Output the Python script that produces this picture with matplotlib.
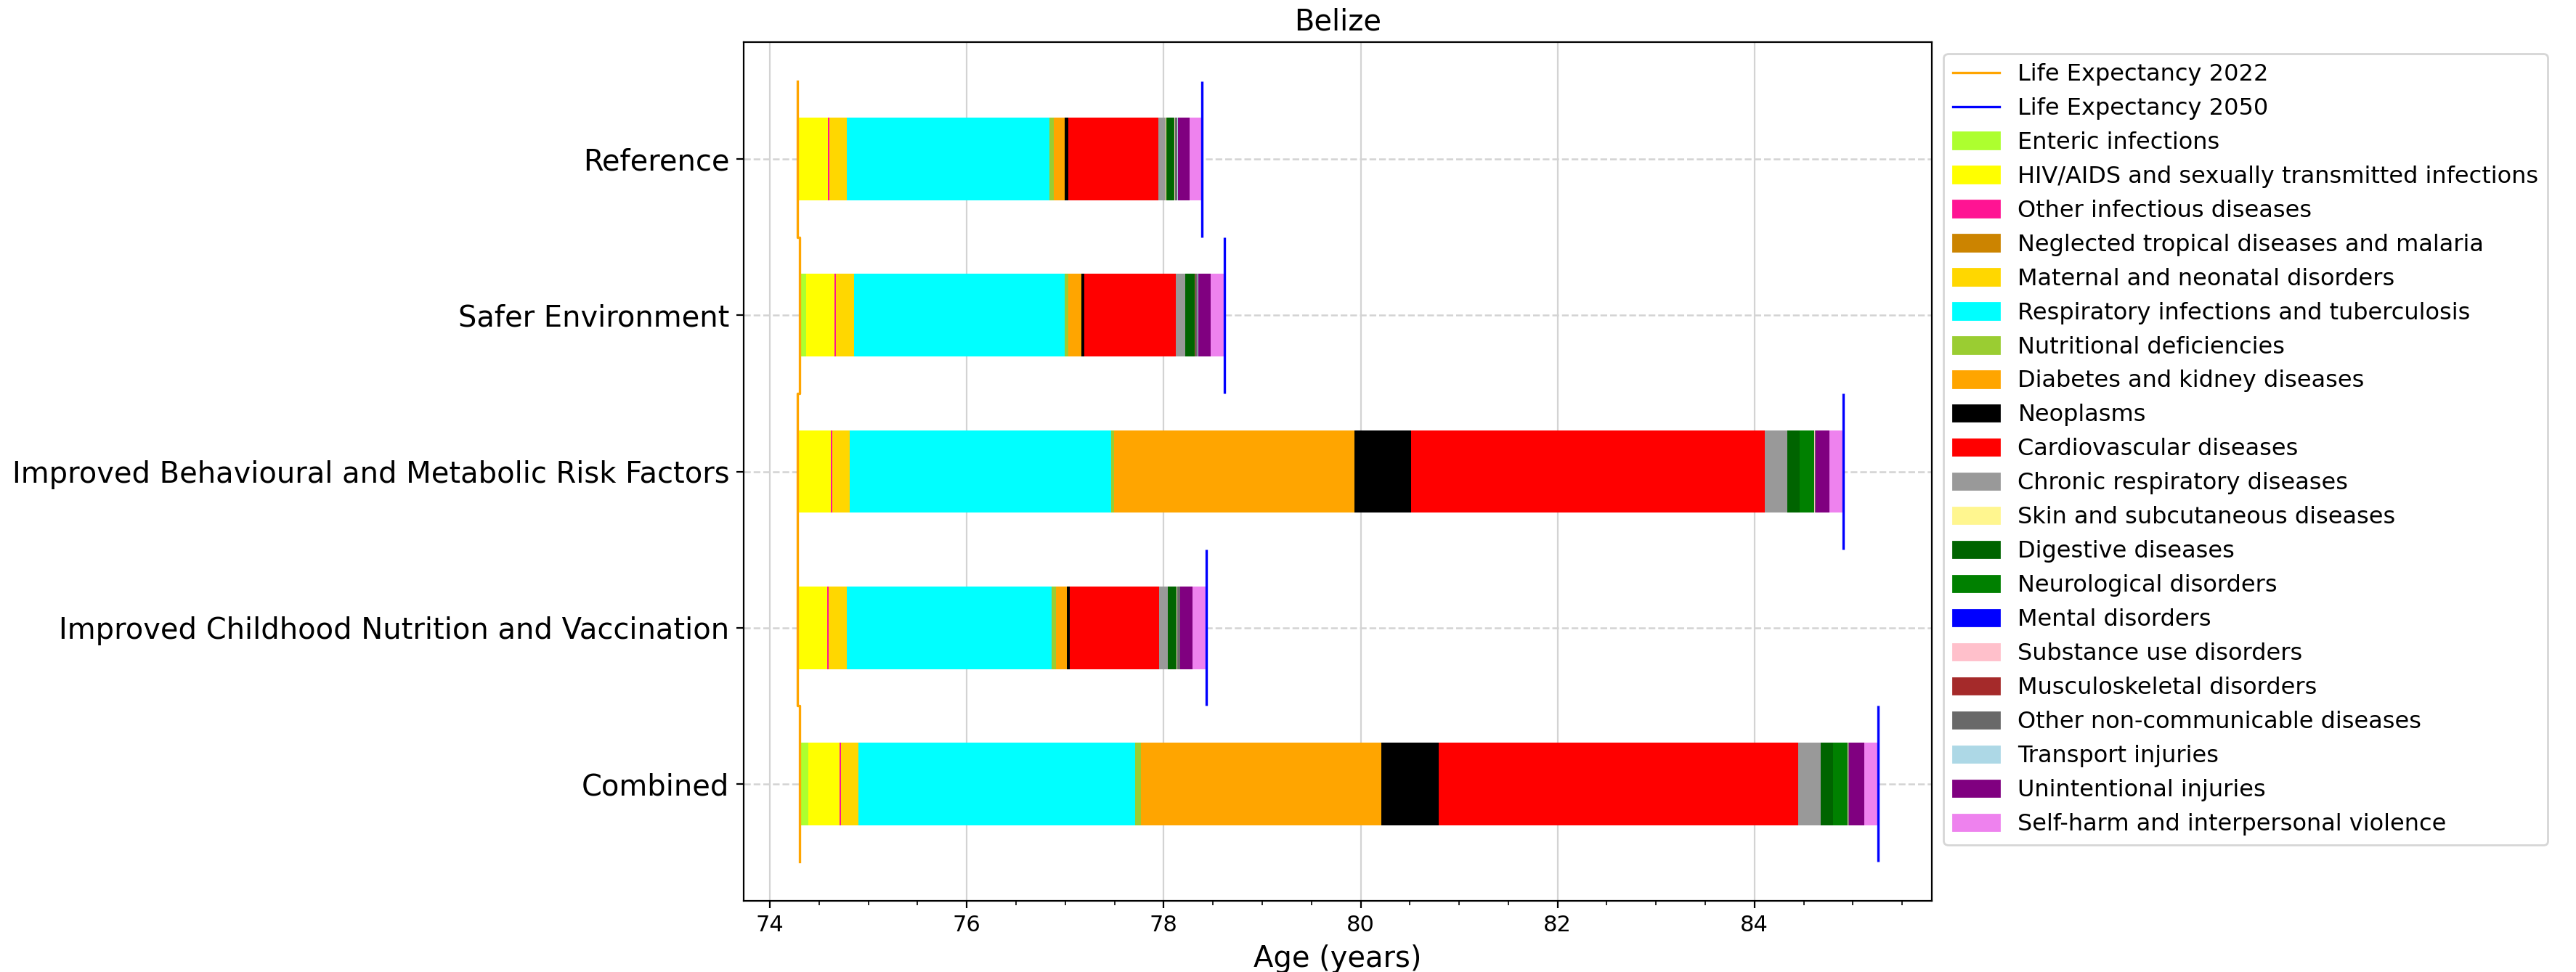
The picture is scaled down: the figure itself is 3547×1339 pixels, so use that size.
import matplotlib.pyplot as plt
import numpy as np
from matplotlib.lines import Line2D
from matplotlib.patches import Patch
from matplotlib.ticker import AutoMinorLocator

scenarios = ["Reference", "Safer Environment",
             "Improved Behavioural and Metabolic Risk Factors",
             "Improved Childhood Nutrition and Vaccination", "Combined"]

causes = ["Enteric infections", "HIV/AIDS and sexually transmitted infections",
          "Other infectious diseases", "Neglected tropical diseases and malaria",
          "Maternal and neonatal disorders", "Respiratory infections and tuberculosis",
          "Nutritional deficiencies", "Diabetes and kidney diseases", "Neoplasms",
          "Cardiovascular diseases", "Chronic respiratory diseases",
          "Skin and subcutaneous diseases", "Digestive diseases",
          "Neurological disorders", "Mental disorders", "Substance use disorders",
          "Musculoskeletal disorders", "Other non-communicable diseases",
          "Transport injuries", "Unintentional injuries",
          "Self-harm and interpersonal violence"]

colors = ["greenyellow", "yellow", "deeppink", "#cc8400", "gold", "cyan",
          "yellowgreen", "orange", "black", "red", "#999999", "#fff68f",
          "darkgreen", "green", "blue", "pink", "brown", "dimgray",
          "lightblue", "purple", "violet"]

le_2022 = [74.28, 74.30, 74.28, 74.28, 74.30]
le_2050 = [78.39, 78.62, 84.90, 78.435, 85.255]

# gain in years by cause, one list per scenario (same order as causes)
reference = [0.015, 0.295, 0.015, 0.002, 0.175, 2.06, 0.04, 0.11, 0.04, 0.91, 0.08,
             0.002, 0.08, 0.005, 0.002, 0.002, 0.002, 0.025, 0.003, 0.12, 0.13]
safer_env = [0.065, 0.29, 0.015, 0.002, 0.18, 2.14, 0.04, 0.13, 0.03, 0.93, 0.095,
             0.002, 0.09, 0.005, 0.002, 0.002, 0.002, 0.025, 0.003, 0.13, 0.145]
behav_metab = [0.01, 0.33, 0.012, 0.002, 0.18, 2.65, 0.035, 2.44, 0.575, 3.59, 0.23,
               0.003, 0.12, 0.15, 0.003, 0.003, 0.003, 0.005, 0.003, 0.135, 0.15]
child_nutr = [0.015, 0.29, 0.013, 0.002, 0.18, 2.08, 0.043, 0.11, 0.03, 0.91, 0.09,
              0.002, 0.08, 0.005, 0.002, 0.002, 0.002, 0.03, 0.003, 0.12, 0.145]
combined = [0.09, 0.32, 0.01, 0.002, 0.18, 2.81, 0.06, 2.44, 0.58, 3.65, 0.23,
            0.003, 0.12, 0.15, 0.003, 0.003, 0.003, 0.005, 0.003, 0.15, 0.145]

gains = np.array([reference, safer_env, behav_metab, child_nutr, combined])
y = np.arange(len(scenarios))

fig = plt.figure(figsize=(3547 / 200, 1339 / 200), dpi=200)
ax = fig.add_axes([1023.7 / 3547, 1 - 1241 / 1339, 1636.6 / 3547, 1183 / 1339])

left = np.array(le_2022, dtype=float)
for j, cause in enumerate(causes):
    ax.barh(y, gains[:, j], left=left, height=0.53, color=colors[j], label=cause)
    left = left + gains[:, j]

# 2022 line drawn as one connected stepped line, 2050 as separate segments
xs = np.repeat(le_2022, 2)
ys = np.ravel([[i - 0.5, i + 0.5] for i in y])
ax.plot(xs, ys, color="orange", lw=1.2)
ax.vlines(le_2050, y - 0.5, y + 0.5, color="blue", lw=1.2)

# bars pin the left edge, so put the usual 5% margin back by hand
lo, hi = min(le_2022), max(le_2050)
pad = 0.05 * (hi - lo)
ax.set_xlim(lo - pad, hi + pad)
ax.set_ylim(4.75, -0.75)

ax.set_yticks(y)
ax.set_yticklabels(scenarios, fontsize=14.4)
ax.xaxis.set_minor_locator(AutoMinorLocator())
ax.tick_params(axis="x", labelsize=11)
ax.set_axisbelow(True)
ax.grid(axis="x", color="#d3d3d3", lw=0.8)
ax.grid(axis="y", color="#d3d3d3", linestyle="--", lw=0.9)
ax.set_xlabel("Age (years)", fontsize=14.4)
ax.set_title("Belize", fontsize=14.4)

handles = [Line2D([], [], color="orange", lw=1.2), Line2D([], [], color="blue", lw=1.2)]
handles += [Patch(color=c) for c in colors]
labels = ["Life Expectancy 2022", "Life Expectancy 2050"] + causes
ax.legend(handles, labels, loc="upper left", bbox_to_anchor=(1, 1), fontsize=11.5)

fig.savefig("out.png", dpi=200)
